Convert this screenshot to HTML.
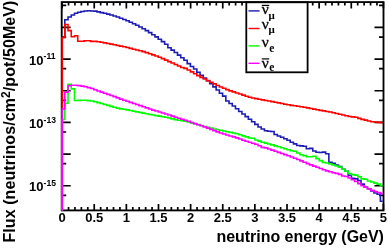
<!DOCTYPE html>
<html><head><meta charset="utf-8"><style>
html,body{margin:0;padding:0;background:#fff;}
svg{display:block;}
</style></head><body>
<svg width="388" height="248" viewBox="0 0 388 248"><rect width="388" height="248" fill="#fff"/><path d="M62.10,210.40V203.90M62.10,2.10V8.60M68.53,210.40V206.90M68.53,2.10V5.60M74.95,210.40V206.90M74.95,2.10V5.60M81.38,210.40V206.90M81.38,2.10V5.60M87.80,210.40V206.90M87.80,2.10V5.60M94.23,210.40V203.90M94.23,2.10V8.60M100.66,210.40V206.90M100.66,2.10V5.60M107.08,210.40V206.90M107.08,2.10V5.60M113.51,210.40V206.90M113.51,2.10V5.60M119.93,210.40V206.90M119.93,2.10V5.60M126.36,210.40V203.90M126.36,2.10V8.60M132.79,210.40V206.90M132.79,2.10V5.60M139.21,210.40V206.90M139.21,2.10V5.60M145.64,210.40V206.90M145.64,2.10V5.60M152.06,210.40V206.90M152.06,2.10V5.60M158.49,210.40V203.90M158.49,2.10V8.60M164.92,210.40V206.90M164.92,2.10V5.60M171.34,210.40V206.90M171.34,2.10V5.60M177.77,210.40V206.90M177.77,2.10V5.60M184.19,210.40V206.90M184.19,2.10V5.60M190.62,210.40V203.90M190.62,2.10V8.60M197.05,210.40V206.90M197.05,2.10V5.60M203.47,210.40V206.90M203.47,2.10V5.60M209.90,210.40V206.90M209.90,2.10V5.60M216.32,210.40V206.90M216.32,2.10V5.60M222.75,210.40V203.90M222.75,2.10V8.60M229.18,210.40V206.90M229.18,2.10V5.60M235.60,210.40V206.90M235.60,2.10V5.60M242.03,210.40V206.90M242.03,2.10V5.60M248.45,210.40V206.90M248.45,2.10V5.60M254.88,210.40V203.90M254.88,2.10V8.60M261.31,210.40V206.90M261.31,2.10V5.60M267.73,210.40V206.90M267.73,2.10V5.60M274.16,210.40V206.90M274.16,2.10V5.60M280.58,210.40V206.90M280.58,2.10V5.60M287.01,210.40V203.90M287.01,2.10V8.60M293.44,210.40V206.90M293.44,2.10V5.60M299.86,210.40V206.90M299.86,2.10V5.60M306.29,210.40V206.90M306.29,2.10V5.60M312.71,210.40V206.90M312.71,2.10V5.60M319.14,210.40V203.90M319.14,2.10V8.60M325.57,210.40V206.90M325.57,2.10V5.60M331.99,210.40V206.90M331.99,2.10V5.60M338.42,210.40V206.90M338.42,2.10V5.60M344.84,210.40V206.90M344.84,2.10V5.60M351.27,210.40V203.90M351.27,2.10V8.60M357.70,210.40V206.90M357.70,2.10V5.60M364.12,210.40V206.90M364.12,2.10V5.60M370.55,210.40V206.90M370.55,2.10V5.60M376.97,210.40V206.90M376.97,2.10V5.60M383.40,210.40V203.90M383.40,2.10V8.60M61.70,5.38H66.20M383.50,5.38H379.00M61.70,27.44H70.70M383.50,27.44H374.50M61.70,37.04H66.20M383.50,37.04H379.00M61.70,59.10H70.70M383.50,59.10H374.50M61.70,68.70H66.20M383.50,68.70H379.00M61.70,90.76H70.70M383.50,90.76H374.50M61.70,100.36H66.20M383.50,100.36H379.00M61.70,122.42H70.70M383.50,122.42H374.50M61.70,132.02H66.20M383.50,132.02H379.00M61.70,154.08H70.70M383.50,154.08H374.50M61.70,163.68H66.20M383.50,163.68H379.00M61.70,185.74H70.70M383.50,185.74H374.50M61.70,195.34H66.20M383.50,195.34H379.00" stroke="#000" stroke-width="1.7" fill="none"/><rect x="61.7" y="2.1" width="321.80" height="208.30" stroke="#000" stroke-width="1.85" fill="none"/><path d="M62.25,210.40L62.25,37.50L64.82,37.50L64.82,19.80L68.04,19.80L68.04,17.00L71.26,17.00L71.26,15.00L74.48,15.00L74.48,13.30L77.70,13.30L77.70,12.20L80.92,12.20L80.92,11.50L84.14,11.50L84.14,11.01L87.36,11.01L87.36,10.80L90.58,10.80L90.58,10.93L93.80,10.93L93.80,11.14L97.02,11.14L97.02,11.90L100.24,11.90L100.24,12.61L103.46,12.61L103.46,13.30L106.68,13.30L106.68,14.14L109.90,14.14L109.90,15.04L113.12,15.04L113.12,15.94L116.34,15.94L116.34,17.04L119.56,17.04L119.56,18.26L122.78,18.26L122.78,19.49L126.00,19.49L126.00,20.82L129.22,20.82L129.22,22.27L132.44,22.27L132.44,23.72L135.66,23.72L135.66,25.29L138.88,25.29L138.88,27.02L142.10,27.02L142.10,28.76L145.32,28.76L145.32,30.59L148.54,30.59L148.54,32.65L151.76,32.65L151.76,34.70L154.98,34.70L154.98,36.86L158.20,36.86L158.20,39.20L161.42,39.20L161.42,41.59L164.64,41.59L164.64,44.27L167.86,44.27L167.86,47.77L171.08,47.77L171.08,50.11L174.30,50.11L174.30,52.43L177.52,52.43L177.52,55.11L180.74,55.11L180.74,57.76L183.96,57.76L183.96,60.18L187.18,60.18L187.18,63.64L190.40,63.64L190.40,66.54L193.62,66.54L193.62,69.01L196.84,69.01L196.84,72.29L200.06,72.29L200.06,75.39L203.28,75.39L203.28,78.06L206.50,78.06L206.50,80.73L209.72,80.73L209.72,83.63L212.94,83.63L212.94,86.85L216.16,86.85L216.16,90.07L219.38,90.07L219.38,93.20L222.60,93.20L222.60,96.14L225.82,96.14L225.82,101.00L229.04,101.00L229.04,103.50L232.26,103.50L232.26,106.00L235.48,106.00L235.48,108.80L238.70,108.80L238.70,111.50L241.92,111.50L241.92,114.00L245.14,114.00L245.14,116.60L248.36,116.60L248.36,119.20L251.58,119.20L251.58,121.80L254.80,121.80L254.80,124.40L258.02,124.40L258.02,127.00L261.24,127.00L261.24,129.00L264.46,129.00L264.46,130.80L267.68,130.80L267.68,131.30L270.90,131.30L270.90,131.50L274.12,131.50L274.12,134.50L277.34,134.50L277.34,136.00L280.56,136.00L280.56,137.20L283.78,137.20L283.78,138.70L287.00,138.70L287.00,140.30L290.22,140.30L290.22,142.30L293.44,142.30L293.44,143.90L296.66,143.90L296.66,145.50L299.88,145.50L299.88,145.90L303.10,145.90L303.10,146.20L306.32,146.20L306.32,148.80L309.54,148.80L309.54,148.40L312.76,148.40L312.76,151.00L315.98,151.00L315.98,152.20L319.20,152.20L319.20,152.50L322.42,152.50L322.42,152.10L325.64,152.10L325.64,153.70L328.86,153.70L328.86,162.40L332.08,162.40L332.08,163.40L335.30,163.40L335.30,165.00L338.52,165.00L338.52,166.60L341.74,166.60L341.74,169.20L344.96,169.20L344.96,171.30L348.18,171.30L348.18,175.30L351.40,175.30L351.40,178.20L354.62,178.20L354.62,178.90L357.84,178.90L357.84,180.50L361.06,180.50L361.06,184.10L364.28,184.10L364.28,187.30L367.50,187.30L367.50,188.80L370.72,188.80L370.72,190.90L373.94,190.90L373.94,193.00L377.16,193.00L377.16,194.30L380.38,194.30L380.38,201.30L382.60,201.30" stroke="#1c1cb4" stroke-width="1.6" fill="none" stroke-linejoin="miter"/><path d="M62.25,210.40L62.25,37.50L64.82,37.50L64.82,24.50L68.04,24.50L68.04,30.60L71.26,30.60L71.26,36.70L74.48,36.70L74.48,35.70L77.70,35.70L77.70,41.30L80.92,41.30L80.92,41.30L84.14,41.30L84.14,40.70L87.36,40.70L87.36,40.70L90.58,40.70L90.58,41.40L93.80,41.40L93.80,41.40L97.02,41.40L97.02,41.79L100.24,41.79L100.24,42.24L103.46,42.24L103.46,42.83L106.68,42.83L106.68,43.49L109.90,43.49L109.90,44.15L113.12,44.15L113.12,44.82L116.34,44.82L116.34,45.49L119.56,45.49L119.56,46.10L122.78,46.10L122.78,46.72L126.00,46.72L126.00,47.53L129.22,47.53L129.22,48.36L132.44,48.36L132.44,49.18L135.66,49.18L135.66,49.94L138.88,49.94L138.88,50.70L142.10,50.70L142.10,51.67L145.32,51.67L145.32,52.64L148.54,52.64L148.54,53.72L151.76,53.72L151.76,54.83L154.98,54.83L154.98,56.03L158.20,56.03L158.20,57.31L161.42,57.31L161.42,58.63L164.64,58.63L164.64,60.11L167.86,60.11L167.86,61.59L171.08,61.59L171.08,63.04L174.30,63.04L174.30,64.50L177.52,64.50L177.52,66.02L180.74,66.02L180.74,67.50L183.96,67.50L183.96,68.38L187.18,68.38L187.18,70.03L190.40,70.03L190.40,71.88L193.62,71.88L193.62,73.76L196.84,73.76L196.84,75.65L200.06,75.65L200.06,77.39L203.28,77.39L203.28,79.02L206.50,79.02L206.50,80.65L209.72,80.65L209.72,82.26L212.94,82.26L212.94,83.85L216.16,83.85L216.16,85.44L219.38,85.44L219.38,86.93L222.60,86.93L222.60,88.27L225.82,88.27L225.82,89.60L229.04,89.60L229.04,90.85L232.26,90.85L232.26,91.92L235.48,91.92L235.48,93.00L238.70,93.00L238.70,94.07L241.92,94.07L241.92,95.14L245.14,95.14L245.14,96.22L248.36,96.22L248.36,97.23L251.58,97.23L251.58,97.96L254.80,97.96L254.80,98.67L258.02,98.67L258.02,99.26L261.24,99.26L261.24,99.85L264.46,99.85L264.46,100.43L267.68,100.43L267.68,101.02L270.90,101.02L270.90,101.60L274.12,101.60L274.12,102.25L277.34,102.25L277.34,102.89L280.56,102.89L280.56,103.53L283.78,103.53L283.78,104.18L287.00,104.18L287.00,104.82L290.22,104.82L290.22,105.33L293.44,105.33L293.44,105.82L296.66,105.82L296.66,106.30L299.88,106.30L299.88,106.79L303.10,106.79L303.10,107.28L306.32,107.28L306.32,107.87L309.54,107.87L309.54,108.49L312.76,108.49L312.76,109.11L315.98,109.11L315.98,109.73L319.20,109.73L319.20,110.34L322.42,110.34L322.42,110.89L325.64,110.89L325.64,111.44L328.86,111.44L328.86,112.07L332.08,112.07L332.08,112.78L335.30,112.78L335.30,113.49L338.52,113.49L338.52,114.20L341.74,114.20L341.74,114.94L344.96,114.94L344.96,115.69L348.18,115.69L348.18,116.44L351.40,116.44L351.40,116.83L354.62,116.83L354.62,117.22L357.84,117.22L357.84,118.35L361.06,118.35L361.06,119.34L364.28,119.34L364.28,120.14L367.50,120.14L367.50,120.93L370.72,120.93L370.72,121.71L373.94,121.71L373.94,122.04L377.16,122.04L377.16,122.36L380.38,122.36L380.38,122.60L382.60,122.60" stroke="#ff0000" stroke-width="1.6" fill="none" stroke-linejoin="miter"/><path d="M62.25,210.40L62.25,119.30L64.82,119.30L64.82,103.30L68.04,103.30L68.04,84.40L71.26,84.40L71.26,88.90L74.48,88.90L74.48,100.50L77.70,100.50L77.70,100.39L80.92,100.39L80.92,100.21L84.14,100.21L84.14,100.24L87.36,100.24L87.36,100.59L90.58,100.59L90.58,101.00L93.80,101.00L93.80,101.80L97.02,101.80L97.02,102.61L100.24,102.61L100.24,103.52L103.46,103.52L103.46,104.45L106.68,104.45L106.68,105.41L109.90,105.41L109.90,106.39L113.12,106.39L113.12,107.30L116.34,107.30L116.34,108.10L119.56,108.10L119.56,108.85L122.78,108.85L122.78,109.28L126.00,109.28L126.00,109.92L129.22,109.92L129.22,110.57L132.44,110.57L132.44,111.21L135.66,111.21L135.66,111.85L138.88,111.85L138.88,112.50L142.10,112.50L142.10,113.14L145.32,113.14L145.32,113.79L148.54,113.79L148.54,114.43L151.76,114.43L151.76,115.06L154.98,115.06L154.98,115.62L158.20,115.62L158.20,116.17L161.42,116.17L161.42,116.73L164.64,116.73L164.64,117.28L167.86,117.28L167.86,118.03L171.08,118.03L171.08,118.90L174.30,118.90L174.30,119.78L177.52,119.78L177.52,120.29L180.74,120.29L180.74,120.79L183.96,120.79L183.96,121.29L187.18,121.29L187.18,122.05L190.40,122.05L190.40,122.90L193.62,122.90L193.62,123.74L196.84,123.74L196.84,124.62L200.06,124.62L200.06,125.53L203.28,125.53L203.28,126.43L206.50,126.43L206.50,127.31L209.72,127.31L209.72,128.12L212.94,128.12L212.94,128.93L216.16,128.93L216.16,129.72L219.38,129.72L219.38,130.38L222.60,130.38L222.60,131.03L225.82,131.03L225.82,131.69L229.04,131.69L229.04,132.33L232.26,132.33L232.26,132.97L235.48,132.97L235.48,133.70L238.70,133.70L238.70,134.77L241.92,134.77L241.92,135.84L245.14,135.84L245.14,136.92L248.36,136.92L248.36,137.94L251.58,137.94L251.58,138.20L254.80,138.20L254.80,139.99L258.02,139.99L258.02,141.12L261.24,141.12L261.24,142.23L264.46,142.23L264.46,143.12L267.68,143.12L267.68,144.01L270.90,144.01L270.90,144.90L274.12,144.90L274.12,145.85L277.34,145.85L277.34,146.80L280.56,146.80L280.56,147.75L283.78,147.75L283.78,148.74L287.00,148.74L287.00,149.73L290.22,149.73L290.22,150.72L293.44,150.72L293.44,151.30L296.66,151.30L296.66,153.00L299.88,153.00L299.88,154.80L303.10,154.80L303.10,155.60L306.32,155.60L306.32,156.80L309.54,156.80L309.54,156.80L312.76,156.80L312.76,156.20L315.98,156.20L315.98,158.60L319.20,158.60L319.20,160.60L322.42,160.60L322.42,162.50L325.64,162.50L325.64,163.00L328.86,163.00L328.86,164.00L332.08,164.00L332.08,165.00L335.30,165.00L335.30,166.00L338.52,166.00L338.52,167.10L341.74,167.10L341.74,169.20L344.96,169.20L344.96,171.30L348.18,171.30L348.18,173.50L351.40,173.50L351.40,174.60L354.62,174.60L354.62,175.10L357.84,175.10L357.84,176.90L361.06,176.90L361.06,178.90L364.28,178.90L364.28,179.30L367.50,179.30L367.50,181.00L370.72,181.00L370.72,182.00L373.94,182.00L373.94,183.10L377.16,183.10L377.16,184.10L380.38,184.10L380.38,185.70L382.60,185.70" stroke="#00ff00" stroke-width="1.6" fill="none" stroke-linejoin="miter"/><path d="M62.25,210.40L62.25,109.00L64.82,109.00L64.82,92.30L68.04,92.30L68.04,85.80L71.26,85.80L71.26,85.20L74.48,85.20L74.48,85.30L77.70,85.30L77.70,85.61L80.92,85.61L80.92,86.10L84.14,86.10L84.14,86.74L87.36,86.74L87.36,87.62L90.58,87.62L90.58,88.55L93.80,88.55L93.80,89.75L97.02,89.75L97.02,90.96L100.24,90.96L100.24,92.12L103.46,92.12L103.46,93.26L106.68,93.26L106.68,94.36L109.90,94.36L109.90,95.44L113.12,95.44L113.12,96.59L116.34,96.59L116.34,97.87L119.56,97.87L119.56,99.13L122.78,99.13L122.78,100.23L126.00,100.23L126.00,101.30L129.22,101.30L129.22,102.36L132.44,102.36L132.44,103.43L135.66,103.43L135.66,104.49L138.88,104.49L138.88,105.60L142.10,105.60L142.10,106.73L145.32,106.73L145.32,107.87L148.54,107.87L148.54,109.00L151.76,109.00L151.76,110.11L154.98,110.11L154.98,111.06L158.20,111.06L158.20,112.02L161.42,112.02L161.42,112.97L164.64,112.97L164.64,113.93L167.86,113.93L167.86,115.00L171.08,115.00L171.08,116.13L174.30,116.13L174.30,117.27L177.52,117.27L177.52,118.24L180.74,118.24L180.74,119.21L183.96,119.21L183.96,120.18L187.18,120.18L187.18,121.29L190.40,121.29L190.40,122.45L193.62,122.45L193.62,123.61L196.84,123.61L196.84,124.73L200.06,124.73L200.06,125.82L203.28,125.82L203.28,126.92L206.50,126.92L206.50,128.08L209.72,128.08L209.72,129.36L212.94,129.36L212.94,130.65L216.16,130.65L216.16,131.89L219.38,131.89L219.38,132.95L222.60,132.95L222.60,134.01L225.82,134.01L225.82,135.02L229.04,135.02L229.04,135.97L232.26,135.97L232.26,136.92L235.48,136.92L235.48,137.91L238.70,137.91L238.70,139.04L241.92,139.04L241.92,140.18L245.14,140.18L245.14,141.31L248.36,141.31L248.36,142.29L251.58,142.29L251.58,143.25L254.80,143.25L254.80,144.20L258.02,144.20L258.02,145.81L261.24,145.81L261.24,147.35L264.46,147.35L264.46,147.92L267.68,147.92L267.68,149.01L270.90,149.01L270.90,150.10L274.12,150.10L274.12,151.24L277.34,151.24L277.34,152.37L280.56,152.37L280.56,153.51L283.78,153.51L283.78,154.65L287.00,154.65L287.00,155.80L290.22,155.80L290.22,156.94L293.44,156.94L293.44,158.20L296.66,158.20L296.66,159.56L299.88,159.56L299.88,160.92L303.10,160.92L303.10,162.30L306.32,162.30L306.32,163.67L309.54,163.67L309.54,164.91L312.76,164.91L312.76,166.14L315.98,166.14L315.98,167.32L319.20,167.32L319.20,168.51L322.42,168.51L322.42,169.74L325.64,169.74L325.64,170.89L328.86,170.89L328.86,171.80L332.08,171.80L332.08,172.80L335.30,172.80L335.30,173.40L338.52,173.40L338.52,174.40L341.74,174.40L341.74,176.00L344.96,176.00L344.96,176.50L348.18,176.50L348.18,178.00L351.40,178.00L351.40,179.80L354.62,179.80L354.62,181.50L357.84,181.50L357.84,183.60L361.06,183.60L361.06,185.70L364.28,185.70L364.28,187.30L367.50,187.30L367.50,188.80L370.72,188.80L370.72,190.40L373.94,190.40L373.94,191.50L377.16,191.50L377.16,192.50L380.38,192.50L380.38,193.60L382.60,193.60" stroke="#ff00ff" stroke-width="1.6" fill="none" stroke-linejoin="miter"/><rect x="246.3" y="2.3" width="61.3" height="70.0" stroke="#000" stroke-width="1.8" fill="#fff"/><path d="M248.5,10.9H259.6" stroke="#1c1cb4" stroke-width="1.4"/><path d="M248.5,28.5H259.6" stroke="#ff0000" stroke-width="1.4"/><path d="M248.5,45.9H259.6" stroke="#00ff00" stroke-width="1.4"/><path d="M248.5,63.3H259.6" stroke="#ff00ff" stroke-width="1.4"/><g font-family="'Liberation Serif', serif" fill="#000"><text x="261.7" y="13.9" font-size="15.5" stroke="#000" stroke-width="0.3">ν</text><path d="M261.8,5.4H269.2" stroke="#000" stroke-width="1.2"/><text x="268.4" y="18.8" font-size="11" font-weight="bold">μ</text><text x="261.7" y="29.1" font-size="15.5" stroke="#000" stroke-width="0.3">ν</text><text x="268.4" y="32.8" font-size="11" font-weight="bold">μ</text><text x="261.7" y="47.0" font-size="15.5" stroke="#000" stroke-width="0.3">ν</text><text x="269.2" y="51.6" font-size="11.5" font-weight="bold">e</text><text x="261.7" y="67.5" font-size="15.5" stroke="#000" stroke-width="0.3">ν</text><path d="M261.8,58.9H269.2" stroke="#000" stroke-width="1.2"/><text x="269.2" y="71.0" font-size="11.5" font-weight="bold">e</text></g><g font-family="'Liberation Sans', Arial, sans-serif" font-weight="bold" fill="#000"><text x="62.10" y="222" font-size="13" text-anchor="middle">0</text><text x="94.23" y="222" font-size="13" text-anchor="middle">0.5</text><text x="126.36" y="222" font-size="13" text-anchor="middle">1</text><text x="158.49" y="222" font-size="13" text-anchor="middle">1.5</text><text x="190.62" y="222" font-size="13" text-anchor="middle">2</text><text x="222.75" y="222" font-size="13" text-anchor="middle">2.5</text><text x="254.88" y="222" font-size="13" text-anchor="middle">3</text><text x="287.01" y="222" font-size="13" text-anchor="middle">3.5</text><text x="319.14" y="222" font-size="13" text-anchor="middle">4</text><text x="351.27" y="222" font-size="13" text-anchor="middle">4.5</text><text x="383.40" y="222" font-size="13" text-anchor="middle">5</text><text x="29.1" y="64.5" font-size="13">10<tspan font-size="8.6" dy="-5.4">-11</tspan></text><text x="29.1" y="128.1" font-size="13">10<tspan font-size="8.6" dy="-5.4">-13</tspan></text><text x="29.1" y="191.4" font-size="13">10<tspan font-size="8.6" dy="-5.4">-15</tspan></text><text x="216.4" y="241.8" font-size="16" textLength="167.5">neutrino energy (GeV)</text><text transform="translate(15.4,242.6) rotate(-90)" x="0" y="0" font-size="16" textLength="242">Flux (neutrinos/cm<tspan font-size="12" dy="-5.6">2</tspan><tspan dy="5.6">/pot/50MeV)</tspan></text></g></svg>
</body></html>
